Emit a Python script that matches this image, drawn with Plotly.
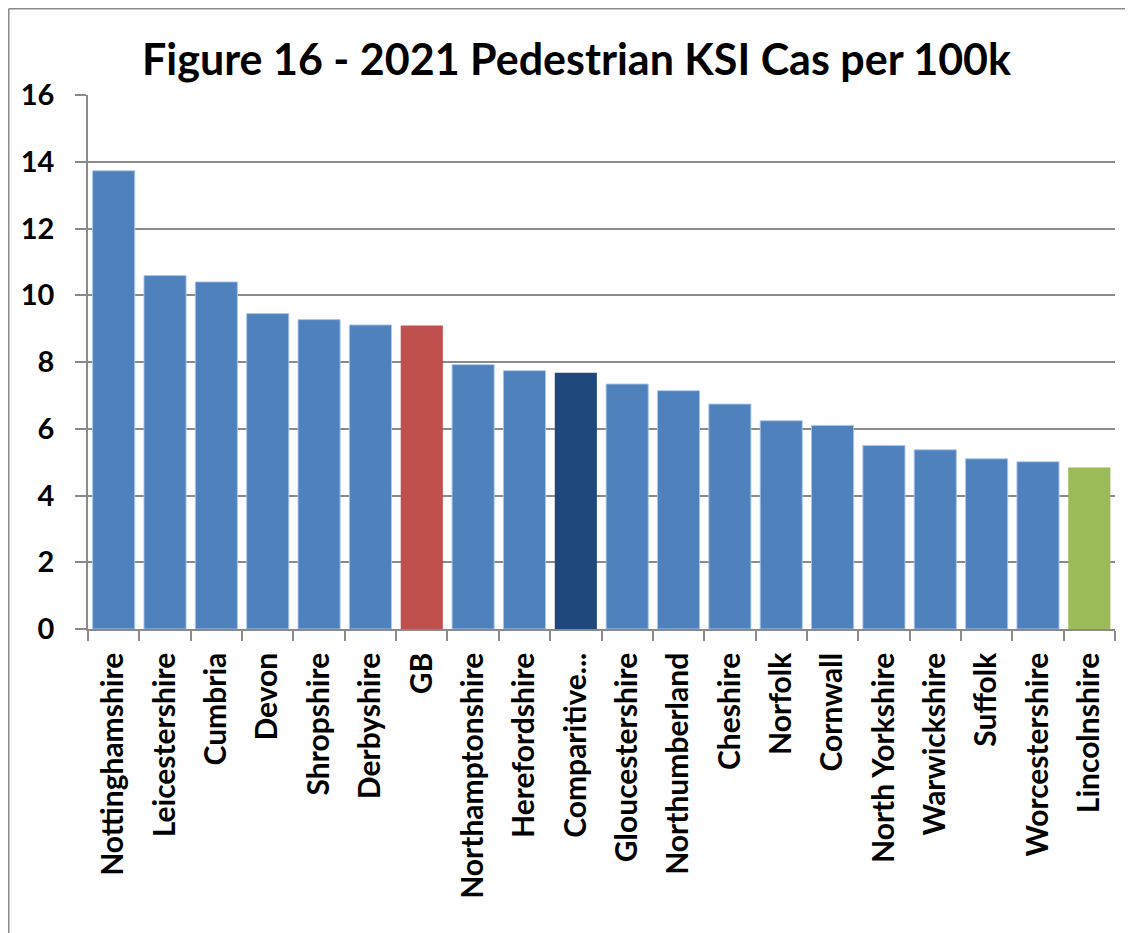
import plotly.graph_objects as go

categories = ["Nottinghamshire", "Leicestershire", "Cumbria", "Devon", "Shropshire",
              "Derbyshire", "GB", "Northamptonshire", "Herefordshire", "Comparitive...",
              "Gloucestershire", "Northumberland", "Cheshire", "Norfolk", "Cornwall",
              "North Yorkshire", "Warwickshire", "Suffolk", "Worcestershire", "Lincolnshire"]
values = [13.73, 10.59, 10.40, 9.45, 9.27, 9.11, 9.09, 7.92, 7.74, 7.68,
          7.34, 7.14, 6.74, 6.24, 6.10, 5.50, 5.37, 5.10, 5.01, 4.84]
y_ticks = [0, 2, 4, 6, 8, 10, 12, 14, 16]

BLUE, RED, NAVY, GREEN = "#4F81BD", "#C0504D", "#1F497D", "#9BBB59"
special = {"GB": RED, "Comparitive...": NAVY, "Lincolnshire": GREEN}
colors = [special.get(c, BLUE) for c in categories]
edge = ["rgba(255,255,255,0)" if c in special else "rgba(170,200,235,0.9)" for c in categories]

FONT = "Lato"
GRID = "#8A8A8A"

# page body has an 8px margin; offsets below compensate for it
L, R, T, B = 80, 26, 87, 311.5
W, H = 1133, 933
PW, PH = W - L - R, H - T - B

fig = go.Figure(go.Bar(
    x=categories, y=values,
    marker=dict(color=colors, line=dict(color=edge, width=1)),
))

fig.update_layout(
    width=W, height=H,
    margin=dict(l=L, r=R, t=T, b=B),
    paper_bgcolor="white", plot_bgcolor="white",
    bargap=0.18,
    showlegend=False,
    title=dict(text="<b>Figure 16 - 2021 Pedestrian KSI Cas per 100k</b>",
               x=0.5018, xanchor="center", y=0.944, yanchor="middle",
               font=dict(family=FONT, size=43, color="black")),
    font=dict(family=FONT, color="black"),
)

fig.update_xaxes(
    type="category", tickangle=-90,
    tickfont=dict(family=FONT, size=30, color="black", weight="bold"),
    showline=True, linecolor=GRID, linewidth=1.5,
    ticks="outside", tickson="boundaries", ticklen=10, tickcolor=GRID, tickwidth=1.5,
    ticklabelstandoff=10,
    showgrid=False,
)
fig.update_yaxes(
    range=[0, 16], tickvals=y_ticks,
    tickfont=dict(family=FONT, size=29, color="black", weight="bold"),
    showline=True, linecolor=GRID, linewidth=1.5,
    ticks="outside", ticklen=11, tickcolor=GRID, tickwidth=1.5,
    ticklabelstandoff=15,
    showgrid=True, gridcolor=GRID, gridwidth=1.5,
    zeroline=False,
)

# outer chart border (gray frame, top and left visible)
bx = (0.75 - L) / PW
by = 1 + (T - 0.75) / PH
fig.add_shape(type="line", xref="paper", yref="paper",
              x0=bx, x1=1.05, y0=by, y1=by,
              line=dict(color="#8C8C8C", width=1.5))
fig.add_shape(type="line", xref="paper", yref="paper",
              x0=bx, x1=bx, y0=by, y1=-0.7,
              line=dict(color="#8C8C8C", width=1.5))

fig.write_html("out.html")
